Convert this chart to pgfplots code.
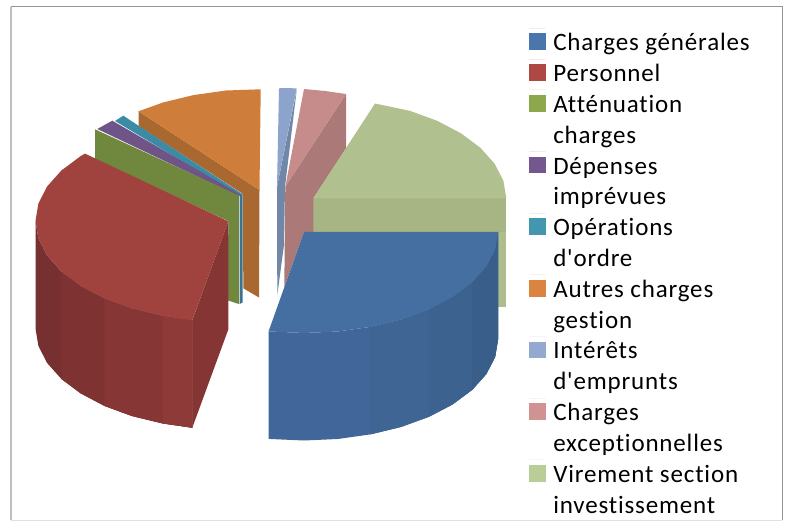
\documentclass[border=0pt]{standalone}
\usepackage{pgfplots}
\pgfplotsset{compat=1.18}
\usepackage{fontspec}
\setmainfont[LetterSpace=3.3,Ligatures={TeXOff,NoCommon}]{Carlito}
\definecolor{bTop}{HTML}{456FA0}
\definecolor{bS1}{HTML}{416699}
\definecolor{bS2}{HTML}{3F6595}
\definecolor{bS3}{HTML}{3C6290}
\definecolor{bS4}{HTML}{395E89}
\definecolor{rTop}{HTML}{A0433F}
\definecolor{rS1}{HTML}{773030}
\definecolor{rS2}{HTML}{7E3332}
\definecolor{rS3}{HTML}{863735}
\definecolor{rS4}{HTML}{8D3A38}
\definecolor{rCut}{HTML}{853634}
\definecolor{gCut}{HTML}{6F883D}
\definecolor{pTop}{HTML}{6F5488}
\definecolor{tTop}{HTML}{3A8BA5}
\definecolor{tCut}{HTML}{3C7391}
\definecolor{oTop}{HTML}{CE7D3A}
\definecolor{oCut}{HTML}{A9682F}
\definecolor{lbTop}{HTML}{8CA3CB}
\definecolor{lbCut}{HTML}{7187A8}
\definecolor{pkTop}{HTML}{C68C8B}
\definecolor{pkCut}{HTML}{AA7978}
\definecolor{lgTop}{HTML}{B0C08F}
\definecolor{lgCut}{HTML}{A7B585}
\definecolor{lgStrip}{HTML}{AEBD8E}
\definecolor{sw1}{HTML}{4A76AC}
\definecolor{sw2}{HTML}{AE4845}
\definecolor{sw3}{HTML}{8DA84C}
\definecolor{sw4}{HTML}{74578F}
\definecolor{sw5}{HTML}{4297AE}
\definecolor{sw6}{HTML}{DA843F}
\definecolor{sw7}{HTML}{93A9CF}
\definecolor{sw8}{HTML}{D09392}
\definecolor{sw9}{HTML}{B9CD96}
\newcommand{\lineA}[1]{\hbox{\rule[-8.4pt]{0pt}{30.82pt}\hspace{7.6pt}#1}}
\newcommand{\one}[1]{\vbox{\offinterlineskip\lineA{#1}\vskip0pt}}
\newcommand{\two}[2]{\vbox{\offinterlineskip\lineA{#1}\lineA{#2}\vskip0pt}}
\begin{document}
\begin{tikzpicture}
\path[use as bounding box] (0,0) rectangle (789pt,521pt);
\begin{axis}[
  scale only axis, width=789pt, height=521pt,
  xmin=0, xmax=789, ymin=0, ymax=521, y dir=reverse,
  hide axis, clip=false,
  legend image code/.code={\path (0pt,0pt) -- (16.4pt,0pt); \fill[overlay,#1] (0pt,-21.72pt) rectangle (16.4pt,-5.02pt);},
  legend style={draw=none, fill=none, inner sep=0pt, outer sep=0pt,
    at={(axis cs:529.3,28.3)}, anchor=north west,
    row sep=-1.5pt, column sep=0pt,
    font=\fontsize{25}{30}\selectfont,
    nodes={inner sep=0pt, outer sep=0pt, anchor=north west},
    cells={anchor=north west}},
  every axis plot/.append style={forget plot},
]
\addlegendimage{fill=sw1, draw=none}
\addlegendentry{\one{Charges générales}}
\addlegendimage{fill=sw2, draw=none}
\addlegendentry{\one{Personnel}}
\addlegendimage{fill=sw3, draw=none}
\addlegendentry{\two{Atténuation}{charges}}
\addlegendimage{fill=sw4, draw=none}
\addlegendentry{\two{Dépenses}{imprévues}}
\addlegendimage{fill=sw5, draw=none}
\addlegendentry{\two{Opérations}{d'ordre}}
\addlegendimage{fill=sw6, draw=none}
\addlegendentry{\two{Autres charges}{gestion}}
\addlegendimage{fill=sw7, draw=none}
\addlegendentry{\two{Intérêts}{d'emprunts}}
\addlegendimage{fill=sw8, draw=none}
\addlegendentry{\two{Charges}{exceptionnelles}}
\addlegendimage{fill=sw9, draw=none}
\addlegendentry{\two{Virement section}{investissement}}

% frame
\addplot[draw=black!25, line width=1.6pt] coordinates {(11,520) (11,7)};
\addplot[draw=black!42, line width=1pt] coordinates {(10.5,7) (782,7) (782,520)};
\addplot[draw=black!12, line width=1pt] coordinates {(11,520) (782,520)};

% Virement section investissement
\addplot[fill=lgCut, draw=none] coordinates {(313.3,198.3) (506.3,198.3) (506.3,306.5) (313.3,306.5)};
\addplot[fill=lgStrip, draw=none] coordinates {(490,232) (506.3,232) (506.3,306.5) (490,306.5)};
% Charges exceptionnelles
\addplot[fill=pkCut, draw=none] coordinates {(346,94) (346,148.4) (313.3,198.3) (313.3,232) (304,232) (284.3,287) (285.3,186.7)};
\addplot[fill=pkTop, draw=none] coordinates {(304,89) (325,91) (346,94) (285.3,186.7)};
\addplot[fill=lgTop, draw=none] coordinates {(375,103.5) (409.8,110.8) (437.4,120.9) (461.1,133.4) (480.4,147.8) (494.7,163.8) (503.4,180.8) (506.3,198.3) (313.3,198.3)};
% Intérêts d'emprunts
\addplot[fill=lbCut, draw=none] coordinates {(296.7,90) (285,186.7) (284,245) (277.3,295) (277,187)};
\addplot[fill=lbTop, draw=none] coordinates {(279,88.3) (288,88) (296.7,88.5) (277,187)};
% Autres charges gestion
\addplot[fill=oCut, draw=none] coordinates {(138.5,111.3) (259.5,190) (259,297.5) (243.3,288.3) (243,194) (138.5,126)};
\addplot[fill=oTop, draw=none] coordinates {(138.5,111.3) (163,102.5) (193.5,95.1) (226,90.5) (260.7,89.3) (259.5,190)};
% Opérations d'ordre
\addplot[fill=tTop, draw=none] coordinates {(115,121) (123.3,115.7) (243,194.5) (240,196)};
\addplot[fill=tCut, draw=none] coordinates {(239.5,195) (242.5,195) (242.5,302.5) (239.5,304)};
% Dépenses imprévues
\addplot[fill=pTop, draw=none] coordinates {(97.3,129) (112.3,120.7) (241,195) (238.3,196)};
% Atténuation charges
\addplot[fill=gCut, draw=none] coordinates {(95,129.3) (238.8,195.5) (238.8,304) (228,300.5) (228.3,221) (95,159.4)};
% Personnel: side, each band laid over the last, so that no seam shows
\addplot[fill=rS1, draw=none] coordinates {(35.5,221) (38.4,238.5) (47.1,255.5) (61.4,271.5) (80.7,285.9) (104.4,298.4) (132,308.5) (162.5,315.9) (192.3,320.2) (192.3,427.7) (162.5,423.4) (132,416) (104.4,405.9) (80.7,393.4) (61.4,379) (47.1,363) (38.4,346) (35.5,328.5)};
\addplot[fill=rS2, draw=none] coordinates {(61.4,271.5) (80.7,285.9) (104.4,298.4) (132,308.5) (162.5,315.9) (192.3,320.2) (192.3,427.7) (162.5,423.4) (132,416) (104.4,405.9) (80.7,393.4) (61.4,379)};
\addplot[fill=rS3, draw=none] coordinates {(104.4,298.4) (132,308.5) (162.5,315.9) (192.3,320.2) (192.3,427.7) (162.5,423.4) (132,416) (104.4,405.9)};
\addplot[fill=rS4, draw=none] coordinates {(162.5,315.9) (192.3,320.2) (192.3,427.7) (162.5,423.4)};
\addplot[fill=rCut, draw=none] coordinates {(228.3,221.3) (192.3,320.2) (192.3,427.7) (228.3,329.5)};
\addplot[fill=rTop, draw=none] coordinates {(192.3,320.2) (162.5,315.9) (132,308.5) (104.4,298.4) (80.7,285.9) (61.4,271.5) (47.1,255.5) (38.4,238.5) (35.5,221) (38.4,203.5) (47.1,186.5) (61.4,170.5) (80.7,156.1) (85,153.6) (228.3,221.3)};
% Charges générales: side, each band laid over the last
\addplot[fill=bS1, draw=none] coordinates {(268.6,331.3) (270.3,331.5) (304,333) (337.7,331.5) (370.4,326.9) (401,319.5) (428.7,309.4) (452.6,296.9) (472,282.5) (486.3,266.5) (495.1,249.5) (498,232) (498,339.5) (495.1,357) (486.3,374) (472,390) (452.6,404.4) (428.7,416.9) (401,427) (370.4,434.4) (337.7,439) (304,440.5) (270.3,439) (268.6,438.8)};
\addplot[fill=bS2, draw=none] coordinates {(370.4,326.9) (401,319.5) (428.7,309.4) (452.6,296.9) (472,282.5) (486.3,266.5) (495.1,249.5) (498,232) (498,339.5) (495.1,357) (486.3,374) (472,390) (452.6,404.4) (428.7,416.9) (401,427) (370.4,434.4)};
\addplot[fill=bS3, draw=none] coordinates {(428.7,309.4) (452.6,296.9) (472,282.5) (486.3,266.5) (495.1,249.5) (498,232) (498,339.5) (495.1,357) (486.3,374) (472,390) (452.6,404.4) (428.7,416.9)};
\addplot[fill=bS4, draw=none] coordinates {(472,282.5) (486.3,266.5) (495.1,249.5) (498,232) (498,339.5) (495.1,357) (486.3,374) (472,390)};
\addplot[fill=bTop, draw=none] coordinates {(304,232) (498,232) (495.1,249.5) (486.3,266.5) (472,282.5) (452.6,296.9) (428.7,309.4) (401,319.5) (370.4,326.9) (337.7,331.5) (304,333) (270.3,331.5) (268.6,331.3)};
\end{axis}
\end{tikzpicture}
\end{document}
